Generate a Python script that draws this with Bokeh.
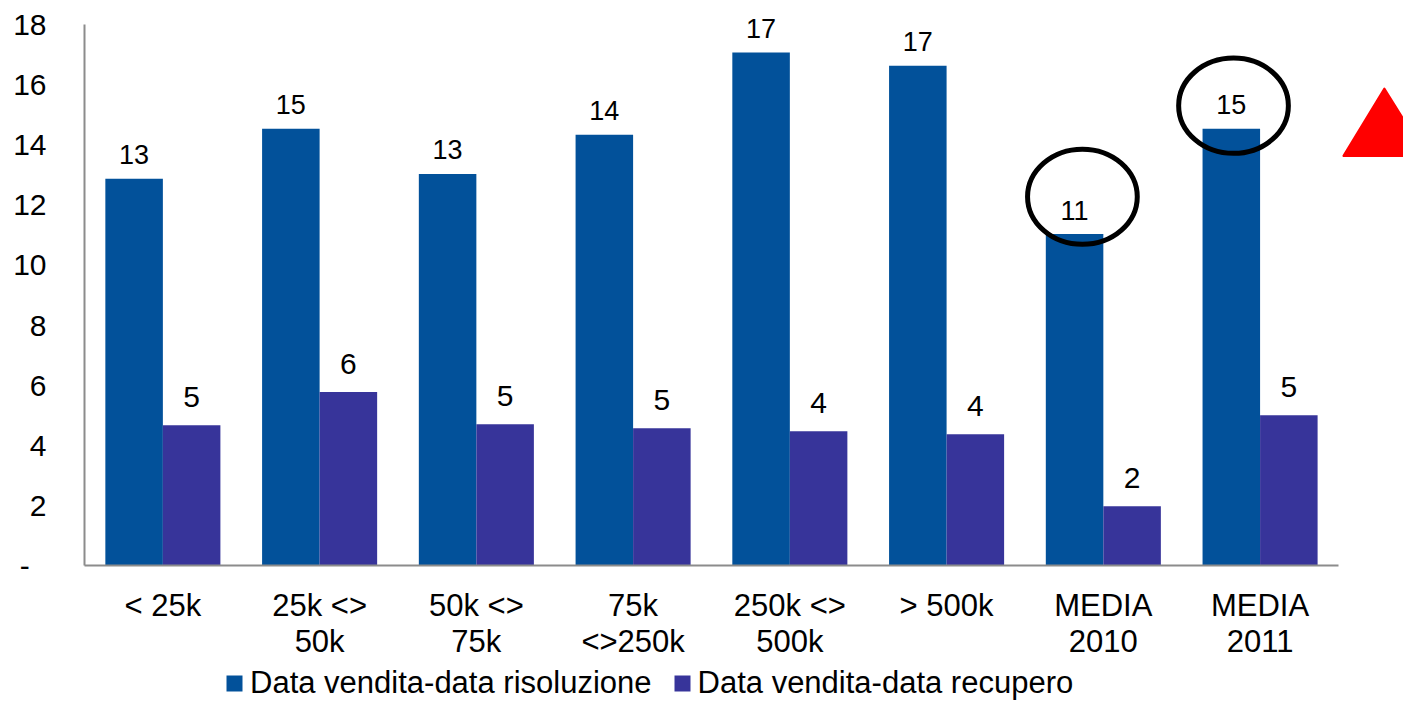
from bokeh.plotting import figure
from bokeh.layouts import column
from bokeh.models import Range1d, FixedTicker, ColumnDataSource, Legend, LegendItem
from bokeh.core.properties import value
from bokeh.embed import file_html
from bokeh.resources import INLINE

# ---- data ----
categories = ["< 25k", "25k <>\n50k", "50k <>\n75k", "75k\n<>250k",
              "250k <>\n500k", "> 500k", "MEDIA\n2010", "MEDIA\n2011"]
risoluzione = [12.87, 14.53, 13.03, 14.33, 17.07, 16.63, 11.03, 14.53]
recupero = [4.67, 5.77, 4.70, 4.57, 4.47, 4.37, 1.97, 5.00]
series_names = ["Data vendita-data risoluzione", "Data vendita-data recupero"]
y_ticks = [0, 2, 4, 6, 8, 10, 12, 14, 16, 18]

# ---- styling ----
FONT = "Liberation Sans"
BLUE = "#02519A"
PURPLE = "#37349A"
AXIS_GRAY = "#8C8C8C"
BAR_W = 0.367
N = len(categories)
W = 1403
H_MAIN = 663
H_LEG = 38

centers = [i + 0.5 for i in range(N)]
x_blue = [c - BAR_W / 2 for c in centers]
x_purp = [c + BAR_W / 2 for c in centers]

src = ColumnDataSource(dict(
    xb=x_blue, xp=x_purp,
    ris=risoluzione, rec=recupero,
    ris_lab=[f"{v:.0f}" for v in risoluzione],
    rec_lab=[f"{v:.0f}" for v in recupero],
))

p = figure(width=W, height=H_MAIN, output_backend="svg", toolbar_location=None,
           x_range=Range1d(0, 8.415), y_range=Range1d(0, 18.8),
           min_border_left=84, min_border_right=0, min_border_top=0,
           min_border_bottom=98)
p.outline_line_color = None
p.grid.grid_line_color = None
p.background_fill_color = "white"
p.border_fill_color = "white"

rb = p.vbar(x="xb", top="ris", width=BAR_W, bottom=0, source=src,
            fill_color=BLUE, line_color=None)
rp = p.vbar(x="xp", top="rec", width=BAR_W, bottom=0, source=src,
            fill_color=PURPLE, line_color=None)

p.text(x="xb", y="ris", text="ris_lab", source=src, text_align="center",
       text_baseline="alphabetic", y_offset=-24, text_font=value(FONT),
       text_font_size="27px", text_color="black")
p.text(x="xp", y="rec", text="rec_lab", source=src, text_align="center",
       text_baseline="alphabetic", y_offset=-28, text_font=value(FONT),
       text_font_size="30px", text_color="black")

# circles highlighting the two averages (anchored on the MEDIA bars)
m_idx = [6, 7]
dx = [0.05, 0.014]
dy = [1.24, 0.77]
p.ellipse(x=[x_blue[i] + d for i, d in zip(m_idx, dx)],
          y=[risoluzione[i] + d for i, d in zip(m_idx, dy)],
          width=0.70, height=3.17, fill_color=None,
          line_color="black", line_width=5)

# red up-triangle at the right
p.patch(x=[8.032, 8.293, 8.56], y=[13.63, 15.87, 13.63],
        fill_color="#FF0000", line_color="#FF0000", line_width=2,
        line_join="round")

# axes
xa = p.xaxis[0]
xa.ticker = FixedTicker(ticks=centers)
xa.major_label_overrides = {c: lab for c, lab in zip(centers, categories)}
xa.bounds = (0, N)
xa.axis_line_color = AXIS_GRAY
xa.axis_line_width = 2
xa.major_tick_line_color = None
xa.minor_tick_line_color = None
xa.major_tick_in = 0
xa.major_tick_out = 0
xa.major_label_standoff = 22
xa.major_label_text_font = FONT
xa.major_label_text_font_size = "31px"
xa.major_label_text_line_height = 1.03
xa.major_label_text_color = "black"

ya = p.yaxis[0]
ya.ticker = FixedTicker(ticks=y_ticks)
ya.major_label_overrides = {0: "-\u00a0\u00a0"}
ya.bounds = (0, 18)
ya.axis_line_color = AXIS_GRAY
ya.axis_line_width = 2
ya.major_tick_line_color = None
ya.minor_tick_line_color = None
ya.major_tick_in = 0
ya.major_tick_out = 0
ya.major_label_standoff = 38
ya.major_label_text_font = FONT
ya.major_label_text_font_size = "30px"
ya.major_label_text_color = "black"

# ---- legend strip (its glyphs use the same data, kept out of view) ----
lf = figure(width=W, height=H_LEG, output_backend="svg", toolbar_location=None,
            x_range=Range1d(-1000, -900), y_range=Range1d(0, 1),
            min_border=0)
lf.outline_line_color = None
lf.grid.grid_line_color = None
lf.axis.visible = False
lb = lf.vbar(x="xb", top="ris", width=BAR_W, source=src,
             fill_color=BLUE, line_color=None)
lp = lf.vbar(x="xp", top="rec", width=BAR_W, source=src,
             fill_color=PURPLE, line_color=None)
lg = Legend(items=[LegendItem(label=series_names[0], renderers=[lb]),
                   LegendItem(label=series_names[1], renderers=[lp])],
            location=(140, 0), orientation="horizontal",
            glyph_width=20, glyph_height=20, label_standoff=6, spacing=20,
            padding=0, margin=0, border_line_color=None,
            background_fill_alpha=0,
            label_text_font=FONT, label_text_font_size="31px",
            label_text_color="black")
lf.add_layout(lg, "center")

layout = column(p, lf, spacing=0)
open("out.html", "w").write(file_html(layout, INLINE))
